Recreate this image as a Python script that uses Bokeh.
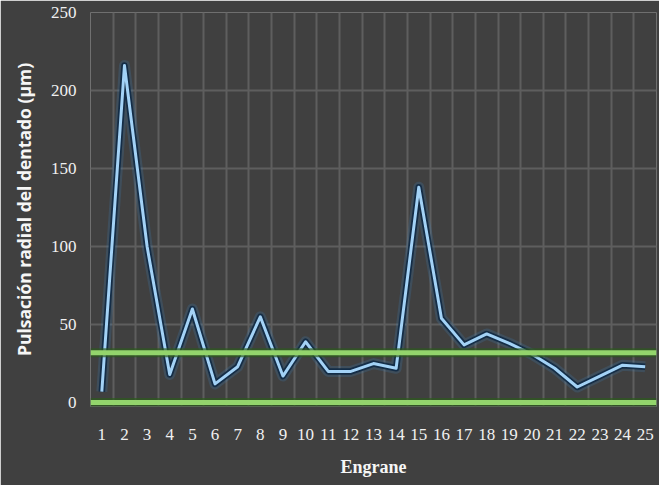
from bokeh.plotting import figure
from bokeh.models import Range1d, FixedTicker, Span
from bokeh.embed import file_html
from bokeh.resources import INLINE

# data
engranes = list(range(1, 26))
pulsacion = [7, 216, 100, 18, 60, 12, 23, 55, 17, 39, 20, 20, 25, 22, 138,
             54, 37, 44, 38, 31, 22, 10, 17, 24, 23]
limites = [0, 32]
y_ticks = [0, 50, 100, 150, 200, 250]

BG = "#404040"
p = figure(width=659, height=485, output_backend="svg", toolbar_location=None,
           x_range=Range1d(0.5, 25.5), y_range=Range1d(-2.5, 250),
           min_border_left=90, min_border_right=3, min_border_top=12, min_border_bottom=79)
p.background_fill_color = BG
p.border_fill_color = BG
p.outline_line_color = None

# grids
p.xgrid.ticker = FixedTicker(ticks=[e - 0.5 for e in engranes] + [engranes[-1] + 0.5])
p.ygrid.ticker = FixedTicker(ticks=y_ticks)
for g in (p.xgrid, p.ygrid):
    g.grid_line_color = "#5e5e5e"
    g.grid_line_width = 2

# axes
p.xaxis.ticker = FixedTicker(ticks=engranes)
p.yaxis.ticker = FixedTicker(ticks=y_ticks)
for ax in (p.xaxis, p.yaxis):
    ax.axis_line_color = None
    ax.major_tick_line_color = None
    ax.minor_tick_line_color = None
    ax.major_label_text_color = "#f0f0f0"
    ax.major_label_text_font = "Liberation Sans Narrow"
    ax.major_label_text_font_size = "17px"
    ax.axis_label_text_color = "#f6f6f6"
    ax.axis_label_text_font_style = "bold"
p.xaxis.major_label_standoff = 16
p.yaxis.major_label_standoff = 8
p.xaxis.axis_label = "Engrane"
p.xaxis.axis_label_text_font = "Liberation Sans Narrow"
p.xaxis.axis_label_text_font_size = "18px"
p.xaxis.axis_label_standoff = 14
p.yaxis.axis_label = "Pulsación radial del dentado (µm)"
p.yaxis.axis_label_text_font = "Open Sans"
p.yaxis.axis_label_text_font_size = "17.5px"
p.yaxis.axis_label_standoff = 12

# limit lines (green with glow)
for lim in limites:
    p.add_layout(Span(location=lim, dimension="width", line_color="#2c5a1c", line_width=9, line_alpha=0.7))
    p.add_layout(Span(location=lim, dimension="width", line_color="#93d46c", line_width=5))

# data line with glow
p.line(engranes, pulsacion, line_color="#3c86c8", line_width=11, line_alpha=0.2, line_join="round")
p.line(engranes, pulsacion, line_color="#0f2a45", line_width=6.5, line_alpha=0.9, line_join="round")
p.line(engranes, pulsacion, line_color="#a3d2f6", line_width=3, line_join="round")

open("out.html", "w").write(file_html(p, INLINE))
